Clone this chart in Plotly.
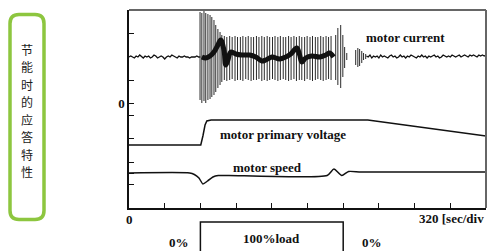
import plotly.graph_objects as go

# ---------------- data (time in divisions, amplitude in arbitrary units) ----------------
X_TICKS = [1, 2, 3, 4, 5, 6, 7, 8, 9]
Y_TICKS = [70, 23, 0, -12, -35, -59, -70, -81]
Y_TICK_TEXT = ["", "", "<b>0</b>", "", "", "", "", ""]

# motor current: noise before load step
cur_pre_t = [0.00, 0.05, 0.10, 0.15, 0.20, 0.25, 0.30, 0.35, 0.40, 0.45,
             0.50, 0.55, 0.60, 0.65, 0.70, 0.75, 0.80, 0.85, 0.90, 0.95,
             1.00, 1.05, 1.10, 1.15, 1.20, 1.25, 1.30, 1.35, 1.40, 1.45,
             1.50, 1.55, 1.60, 1.65, 1.70, 1.75, 1.80, 1.85, 1.90, 1.95, 2.00]
cur_pre_v = [46, 47, 46, 45, 47, 46, 48, 46, 45, 47,
             46, 47, 45, 46, 48, 47, 45, 46, 47, 46,
             44, 46, 47, 46, 48, 47, 46, 45, 47, 46,
             46, 47, 46, 46, 45, 46, 46, 46, 47, 46, 46]

# motor current: oscillation spikes (time, upper, lower)
spike_t = [1.99, 2.04, 2.10, 2.15, 2.21, 2.27, 2.32, 2.38, 2.43, 2.49, 2.55, 2.60,
           2.67, 2.74, 2.82, 2.89, 2.97, 3.04, 3.12, 3.19, 3.27, 3.34,
           3.42, 3.49, 3.57, 3.64, 3.72, 3.79, 3.87, 3.94, 4.02, 4.09,
           4.17, 4.24, 4.32, 4.39, 4.47, 4.54, 4.62, 4.69, 4.77, 4.84,
           4.92, 4.99, 5.07, 5.14, 5.22, 5.29, 5.37, 5.44, 5.52, 5.59,
           5.66,
           5.79, 5.85, 5.93, 5.99, 6.04, 6.10,
           6.35, 6.41, 6.46, 6.52, 6.57, 6.63]
spike_hi = [91, 90, 93, 90, 89, 88, 86, 83, 78, 74, 71, 68,
            67, 66, 67, 66, 67, 66, 66, 67, 66, 67,
            66, 66, 67, 66, 67, 66, 67, 66, 66, 67,
            66, 67, 66, 66, 67, 66, 67, 66, 67, 66,
            66, 67, 66, 67, 66, 66, 67, 66, 67, 66,
            67,
            68, 75, 78, 68, 56, 50,
            53, 55, 54, 52, 50, 49]
spike_lo = [3, 0, 2, 0, 3, 4, 6, 8, 11, 15, 18, 21,
            23, 22, 23, 24, 22, 23, 23, 22, 24, 23,
            22, 23, 23, 24, 22, 23, 22, 23, 24, 23,
            22, 23, 24, 23, 22, 23, 24, 22, 23, 23,
            22, 24, 23, 22, 23, 24, 23, 22, 23, 24,
            23,
            23, 18, 15, 26, 35, 43,
            38, 36, 37, 40, 43, 44]

# motor current: thick mean line during load
cur_mid_t = [2.04, 2.15, 2.27, 2.38, 2.49, 2.57, 2.66, 2.71, 2.77, 2.85, 2.99, 3.16,
             3.38, 3.55, 3.72, 3.83, 4.00, 4.22, 4.39, 4.53, 4.70, 4.78, 4.84, 4.95,
             5.12, 5.34, 5.51, 5.62, 5.73]
cur_mid_v = [46, 45, 47, 51, 58, 63, 53, 38, 43, 51, 49, 48,
             48, 46, 42, 43, 46, 44, 46, 49, 55, 48, 41, 45,
             47, 46, 48, 50, 46]

# motor current: noise after load removal
cur_post_t = [6.65, 6.70, 6.75, 6.80, 6.85, 6.90, 6.95, 7.00, 7.05, 7.10,
              7.15, 7.20, 7.25, 7.30, 7.35, 7.40, 7.45, 7.50, 7.55, 7.60,
              7.65, 7.70, 7.75, 7.80, 7.85, 7.90, 7.95, 8.00, 8.05, 8.10,
              8.15, 8.20, 8.25, 8.30, 8.35, 8.40, 8.45, 8.50, 8.55, 8.60,
              8.65, 8.70, 8.75, 8.80, 8.85, 8.90, 8.95, 9.00, 9.05, 9.10,
              9.15, 9.20, 9.25, 9.30, 9.35, 9.40, 9.45, 9.50, 9.55, 9.60,
              9.65, 9.70, 9.75, 9.80, 9.85, 9.90, 9.95, 10.00]
cur_post_v = [47, 46, 48, 45, 47, 46, 47, 45, 48, 46,
              47, 46, 45, 47, 48, 46, 47, 45, 46, 48,
              46, 47, 45, 47, 46, 48, 47, 46, 45, 47,
              46, 48, 46, 47, 45, 47, 46, 47, 48, 46,
              47, 45, 46, 48, 47, 46, 47, 46, 48, 47,
              46, 47, 48, 46, 47, 48, 47, 46, 48, 47,
              48, 47, 46, 48, 47, 48, 47, 48]

# motor primary voltage
volt_t = [0.0, 2.01, 2.07, 2.13, 2.18, 2.30, 6.69, 10.0]
volt_v = [-42, -42, -33, -22, -18, -17, -17, -33]

# motor speed
speed_t = [0.0, 1.70, 1.83, 1.96, 2.07, 2.20, 2.35, 2.50, 2.80, 5.55, 5.74, 5.96, 6.15, 6.50, 10.0]
speed_v = [-70, -70, -71.5, -75, -81, -78, -74, -72.5, -72.5, -72.5, -66, -72.5, -68.5, -69, -69]

# load profile
load_on, load_off = 2.0, 6.0
X_MAX = 10.0

side_title = "节能时的应答特性"

# ---------------- figure ----------------
W, H = 487, 251
ML, MR, MT, MB = 129, 1, 10, 43
PW, PH = W - ML - MR, H - MT - MB


def px(xp):
    return (xp - ML) / PW


def py(yp):
    return (H - MB - yp) / PH


SERIF = "Liberation Serif, Times New Roman, serif"
ink = "#111111"

fig = go.Figure()

fig.add_trace(go.Scatter(x=cur_pre_t, y=cur_pre_v, mode="lines",
                         line=dict(color=ink, width=1.3), hoverinfo="skip"))

sx, sy = [], []
for t, hi, lo in zip(spike_t, spike_hi, spike_lo):
    sx += [t, t, None]
    sy += [hi, lo, None]
fig.add_trace(go.Scatter(x=sx, y=sy, mode="lines",
                         line=dict(color="#2a2a2a", width=1), hoverinfo="skip"))

fig.add_trace(go.Scatter(x=cur_mid_t, y=cur_mid_v, mode="lines",
                         line=dict(color=ink, width=5, shape="spline"), hoverinfo="skip"))

fig.add_trace(go.Scatter(x=cur_post_t, y=cur_post_v, mode="lines",
                         line=dict(color=ink, width=1.3), hoverinfo="skip"))

fig.add_trace(go.Scatter(x=volt_t, y=volt_v, mode="lines",
                         line=dict(color=ink, width=1.5), hoverinfo="skip"))

fig.add_trace(go.Scatter(x=speed_t, y=speed_v, mode="lines",
                         line=dict(color=ink, width=1.5, shape="spline", smoothing=0.6),
                         hoverinfo="skip"))

font_b = dict(family=SERIF, size=13, color=ink)
annots = []
for x, y, txt in [(7.75, 66, "motor current"),
                  (4.31, -31, "motor primary voltage"),
                  (3.89, -64, "motor speed")]:
    annots.append(dict(xref="x", yref="y", x=x, y=y, text=f"<b>{txt}</b>", showarrow=False,
                       xanchor="center", yanchor="middle", font=font_b))

# x labels under the axis
annots.append(dict(xref="x", yref="paper", x=0, y=py(219.5), text="<b>0</b>", showarrow=False,
                   xanchor="center", yanchor="middle", font=font_b))
annots.append(dict(xref="paper", yref="paper", x=1.0, y=py(218), xanchor="right", yanchor="middle",
                   text="<b>320 [sec/div</b>", showarrow=False, font=font_b))
# load labels
annots.append(dict(xref="x", yref="paper", x=1.4, y=py(242), text="<b>0%</b>", showarrow=False,
                   xanchor="center", yanchor="middle", font=font_b))
annots.append(dict(xref="x", yref="paper", x=(load_on + load_off) / 2, y=py(238),
                   text="<b>100%load</b>", showarrow=False,
                   xanchor="center", yanchor="middle", font=font_b))
annots.append(dict(xref="x", yref="paper", x=6.8, y=py(242), text="<b>0%</b>", showarrow=False,
                   xanchor="center", yanchor="middle", font=font_b))

# vertical Chinese title (one character per annotation)
CJK_SIZE, CJK_PITCH, CJK_MID = 12, 17.5, 110.4
n = len(side_title)
for i, ch in enumerate(side_title):
    annots.append(dict(xref="paper", yref="paper", x=px(27),
                       y=py(CJK_MID + (i - (n - 1) / 2) * CJK_PITCH),
                       text=ch, showarrow=False, xanchor="center", yanchor="middle",
                       font=dict(family="Noto Sans CJK SC", size=CJK_SIZE, color="#1a1a1a")))

shapes = []
# top/right frame
shapes.append(dict(type="line", xref="paper", yref="paper", x0=0, y0=1, x1=1, y1=1,
                   line=dict(color="#666666", width=2)))
shapes.append(dict(type="line", xref="paper", yref="paper", x0=1, y0=0, x1=1, y1=1,
                   line=dict(color="#666666", width=2)))
# load box
lx0, lx1 = load_on / X_MAX, load_off / X_MAX
ly_top, ly_bot = py(222), py(258)
shapes.append(dict(type="path", xref="paper", yref="paper",
                   path=f"M {lx0} {ly_bot} L {lx0} {ly_top} L {lx1} {ly_top} L {lx1} {ly_bot}",
                   line=dict(color=ink, width=1.5)))

# green rounded frame
x0g, x1g, y0g, y1g, r = 10, 44, 14.5, 219.5, 9
path = (f"M {px(x0g + r)} {py(y0g)} L {px(x1g - r)} {py(y0g)} "
        f"Q {px(x1g)} {py(y0g)} {px(x1g)} {py(y0g + r)} "
        f"L {px(x1g)} {py(y1g - r)} Q {px(x1g)} {py(y1g)} {px(x1g - r)} {py(y1g)} "
        f"L {px(x0g + r)} {py(y1g)} Q {px(x0g)} {py(y1g)} {px(x0g)} {py(y1g - r)} "
        f"L {px(x0g)} {py(y0g + r)} Q {px(x0g)} {py(y0g)} {px(x0g + r)} {py(y0g)} Z")
shapes.append(dict(type="path", xref="paper", yref="paper", path=path,
                   line=dict(color="#8dc63f", width=3.5)))

fig.update_layout(
    width=W, height=H,
    margin=dict(l=ML, r=MR, t=MT, b=MB, pad=0),
    plot_bgcolor="white", paper_bgcolor="white",
    showlegend=False,
    annotations=annots,
    shapes=shapes,
    xaxis=dict(range=[0, X_MAX], showgrid=False, zeroline=False, showline=True,
               linecolor=ink, linewidth=1.5, ticks="inside", ticklen=5, tickwidth=1,
               tickcolor=ink, tickvals=X_TICKS, showticklabels=False, fixedrange=True),
    yaxis=dict(range=[-105, 93], showgrid=False, zeroline=False, showline=True,
               linecolor=ink, linewidth=1.5, ticks="inside", ticklen=5, tickwidth=1,
               tickcolor=ink, tickvals=Y_TICKS, ticktext=Y_TICK_TEXT,
               tickfont=dict(family=SERIF, size=13, color=ink), fixedrange=True),
)

fig.write_html("out.html", config={"displayModeBar": False},
               post_script="document.body.style.margin='0';document.body.style.overflow='hidden';")
